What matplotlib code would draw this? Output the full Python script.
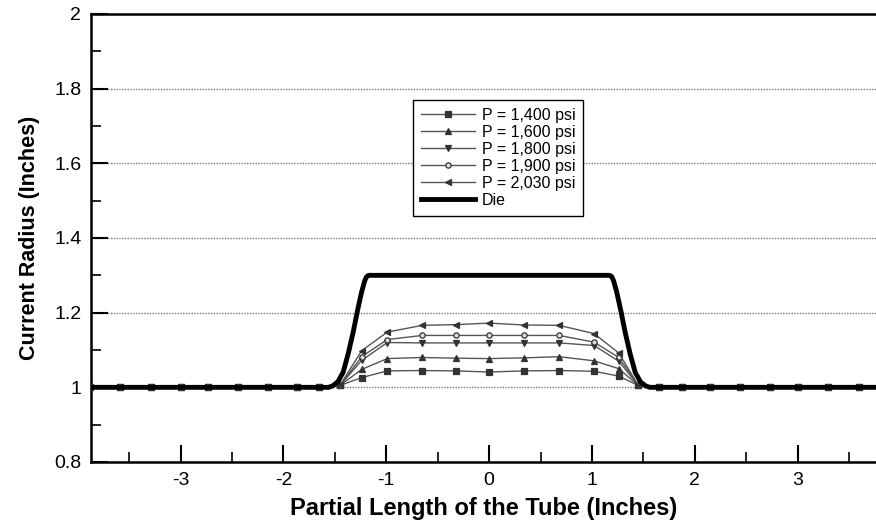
import matplotlib.pyplot as plt
from matplotlib.ticker import MultipleLocator

plt.rcParams['font.family'] = ['Liberation Sans', 'DejaVu Sans']
plt.rcParams['axes.unicode_minus'] = False

# node positions carrying markers (inches)
x_left = [-3.88, -3.59, -3.29, -3.0, -2.73, -2.44, -2.15, -1.87, -1.65]
x_mid = [-1.45, -1.24, -0.99, -0.65, -0.32, 0.0, 0.34, 0.68, 1.02, 1.26, 1.45]
x_right = [1.65, 1.87, 2.15, 2.44, 2.73, 3.0, 3.29, 3.59, 3.88]

# radius over the bulged part, one list per pressure
r_1400 = [1.005, 1.026, 1.044, 1.045, 1.044, 1.041, 1.044, 1.045, 1.043, 1.030, 1.005]
r_1600 = [1.005, 1.048, 1.077, 1.080, 1.078, 1.077, 1.079, 1.082, 1.071, 1.050, 1.005]
r_1800 = [1.005, 1.072, 1.120, 1.119, 1.119, 1.119, 1.119, 1.119, 1.112, 1.070, 1.005]
r_1900 = [1.005, 1.082, 1.128, 1.139, 1.139, 1.139, 1.139, 1.139, 1.121, 1.080, 1.005]
r_2030 = [1.005, 1.098, 1.148, 1.166, 1.168, 1.172, 1.167, 1.166, 1.144, 1.092, 1.005]
r_flat = 1.0

labels = ["P = 1,400 psi", "P = 1,600 psi", "P = 1,800 psi", "P = 1,900 psi", "P = 2,030 psi"]
markers = ["s", "^", "v", "o", "<"]

die_x = [-3.88, -1.56, -1.52, -1.47, -1.42, -1.37, -1.32, -1.28, -1.24, -1.21, -1.19, -1.17,
         1.17, 1.19, 1.21, 1.24, 1.28, 1.32, 1.37, 1.42, 1.47, 1.52, 1.56, 3.88]
die_r = [1.0, 1.0, 1.004, 1.015, 1.040, 1.090, 1.150, 1.205, 1.255, 1.285, 1.297, 1.30,
         1.30, 1.297, 1.285, 1.255, 1.205, 1.150, 1.090, 1.040, 1.015, 1.004, 1.0, 1.0]

fig = plt.figure(figsize=(8.76, 5.25), dpi=100)
ax = fig.add_axes([91 / 876, 63 / 525, 785 / 876, 448 / 525])

x_all = x_left + x_mid + x_right
for r, lab, m in zip([r_1400, r_1600, r_1800, r_1900, r_2030], labels, markers):
    y_all = [r_flat] * len(x_left) + r + [r_flat] * len(x_right)
    face = "#dddddd" if m == "o" else "#333333"
    ax.plot(x_all, y_all, color="#555555", lw=1.0, marker=m, ms=3.8,
            mfc=face, mec="#333333", mew=0.9, label=lab, zorder=3)

ax.plot(die_x, die_r, color="black", lw=3.5, label="Die", zorder=4,
        solid_joinstyle="round")

ax.set_xlim(-3.87, 3.76)
ax.set_ylim(0.8, 2.0)
ax.xaxis.set_major_locator(MultipleLocator(1))
ax.xaxis.set_minor_locator(MultipleLocator(0.5))
ax.yaxis.set_major_locator(MultipleLocator(0.2))
ax.yaxis.set_minor_locator(MultipleLocator(0.1))
ax.yaxis.set_major_formatter(lambda v, p: f"{v:g}")
ax.tick_params(which="major", direction="in", length=12, width=1.5, labelsize=14, pad=7)
ax.tick_params(which="minor", direction="in", length=7, width=1.2)
ax.tick_params(top=False, right=False)

ax.yaxis.grid(True, which="major", linestyle=(0, (1, 1)), color="#777777", lw=1.0)
ax.set_axisbelow(True)

for s in ["left", "bottom", "top"]:
    ax.spines[s].set_linewidth(1.8)
ax.spines["right"].set_visible(False)

ax.set_xlabel("Partial Length of the Tube (Inches)", fontsize=17, fontweight="bold", labelpad=6)
ax.set_ylabel("Current Radius (Inches)", fontsize=15.5, fontweight="bold", labelpad=10)

leg = ax.legend(loc="upper left", bbox_to_anchor=(0.41, 0.808), borderaxespad=0,
                fontsize=11.5, labelspacing=0.12, handlelength=3.4, handletextpad=0.4,
                fancybox=False, edgecolor="black", framealpha=1, borderpad=0.5)
leg.get_frame().set_linewidth(1.0)

fig.savefig("out.png", dpi=100)
